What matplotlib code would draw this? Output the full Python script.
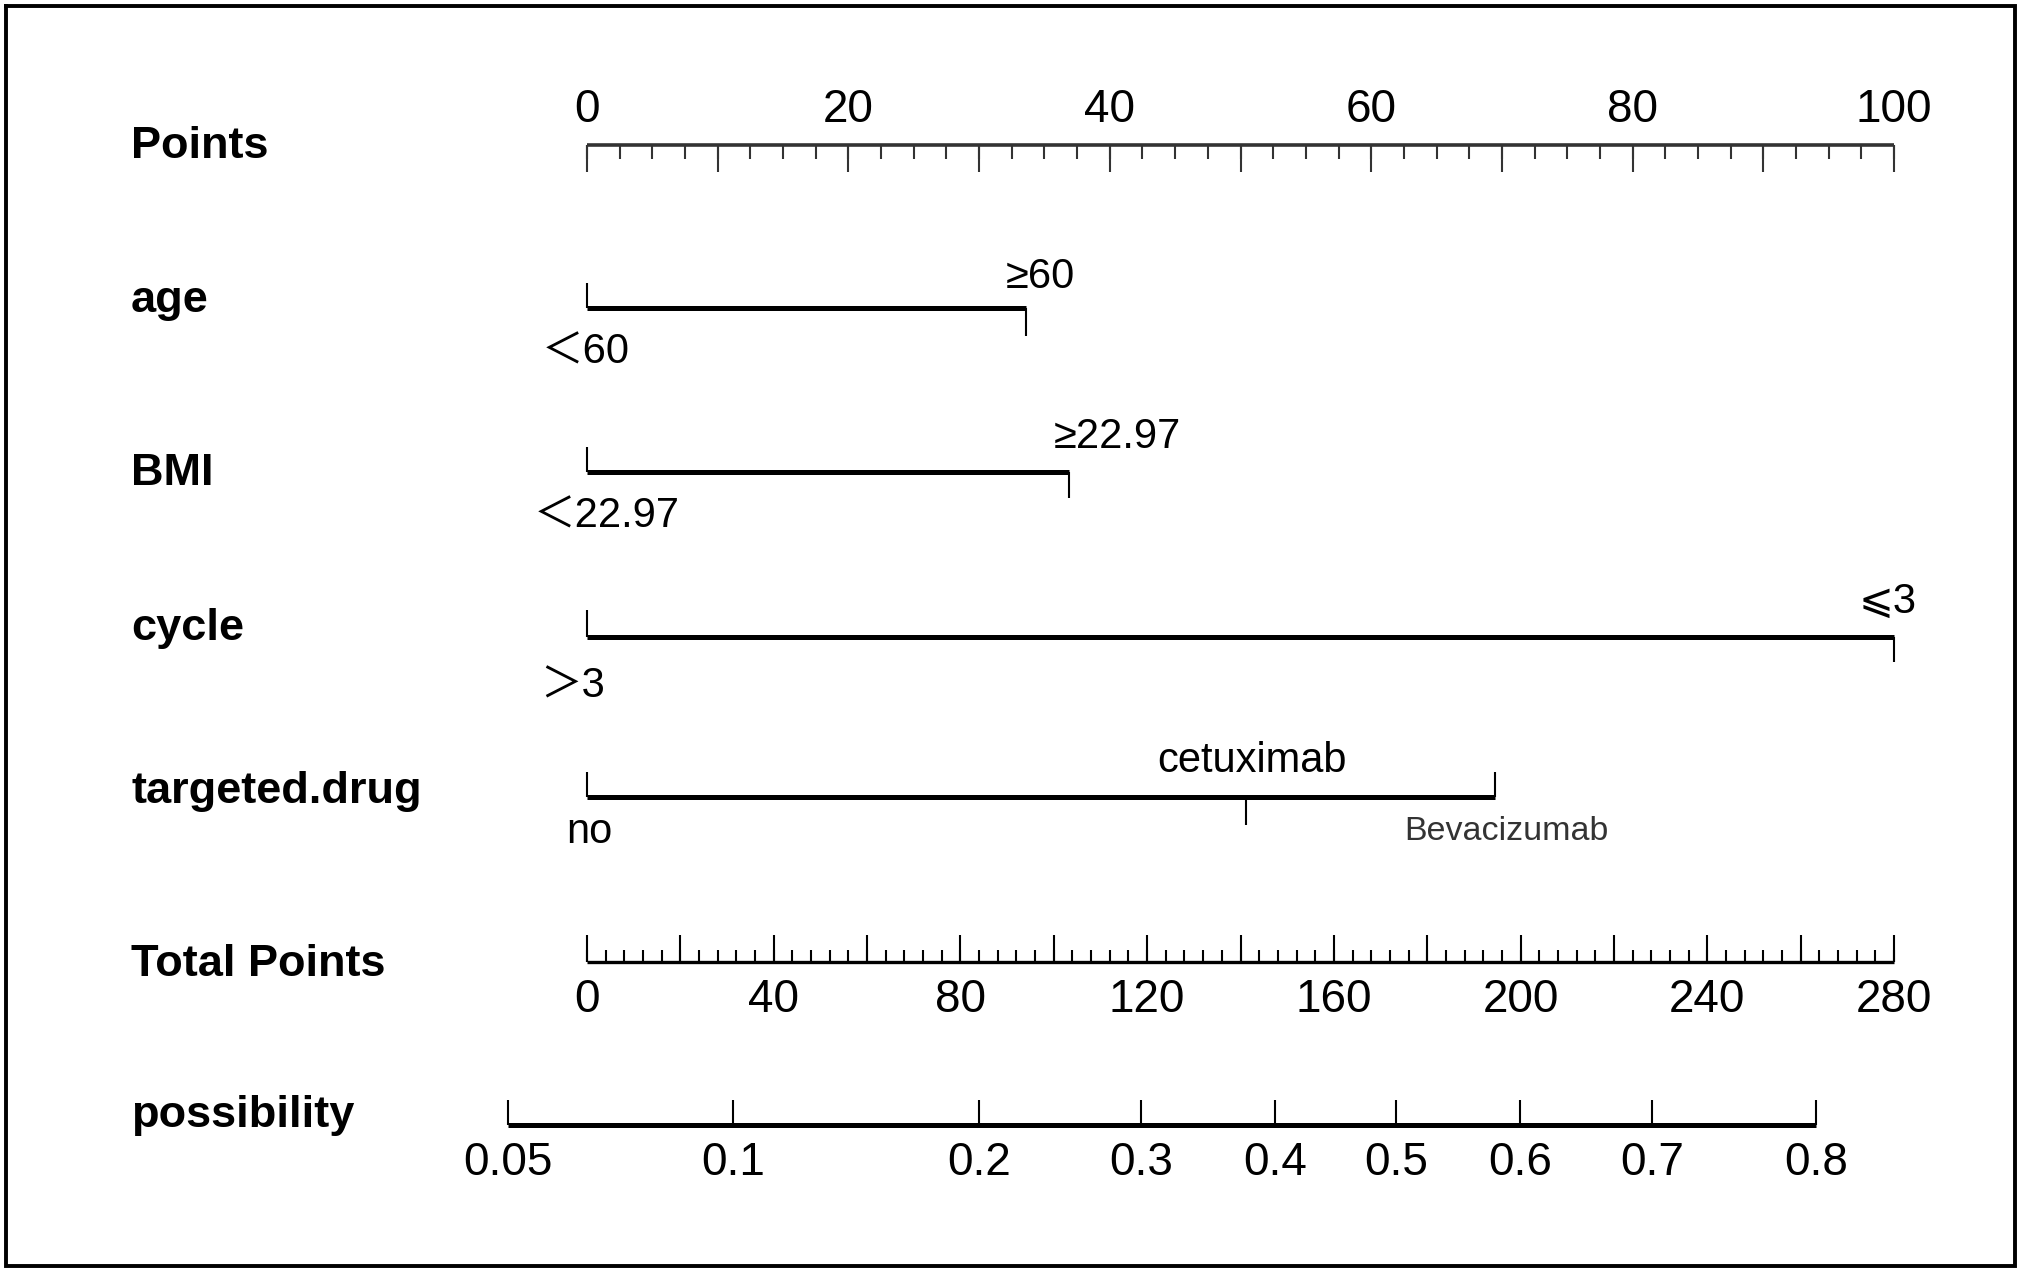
import numpy as np
import matplotlib.pyplot as plt

# nomogram scales
points_labels = [0, 20, 40, 60, 80, 100]
total_labels = [0, 40, 80, 120, 160, 200, 240, 280]
total_max = 280

# predictor levels and their points
age_levels = ["＜60", "≥60"]
age_points = [0, 33.6]
bmi_levels = ["＜22.97", "≥22.97"]
bmi_points = [0, 36.9]
cycle_levels = ["＞3", "⩽3"]
cycle_points = [0, 100]
drug_levels = ["no", "cetuximab", "Bevacizumab"]
drug_points = [0, 50.4, 69.5]

# possibility axis: labels and where they sit on the total points scale
prob_labels = ["0.05", "0.1", "0.2", "0.3", "0.4", "0.5", "0.6", "0.7", "0.8"]
prob_total = [-16.9, 31.3, 84.0, 118.7, 147.4, 173.3, 199.9, 228.2, 263.3]

row_names = ["Points", "age", "BMI", "cycle", "targeted.drug", "Total Points", "possibility"]

W, H = 2022, 1272
X0, S = 587, 13.07  # pixel of 0 points, pixels per point


def px(x):
    return (x - X0) / S


def dx(d):
    return d / S


def tp(v):
    return np.asarray(v, dtype=float) * 100 / total_max


plt.rcParams['font.family'] = ['Liberation Sans', 'Noto Sans CJK SC', 'DejaVu Sans']

fig = plt.figure(figsize=(W / 100, H / 100), dpi=100)
ax = fig.add_axes([0, 0, 1, 1])
ax.set_xlim(px(0), px(W))
ax.set_ylim(H, 0)
ax.axis("off")

LW_ROW = 3.6
LW_TICK = 1.5
LBL = 32.5
TICK = 33
VAL = 30

# row labels
label_y = [158, 312, 485, 640, 803, 976, 1127]
for name, y in zip(row_names, label_y):
    ax.text(px(131), y, name, fontsize=LBL, fontweight="bold", va="baseline", ha="left")

# Points axis
y = 145
ax.hlines(y, 0, 100, color="#333333", lw=2.6)
minor = np.arange(0, 100.01, 2.5)
major = np.arange(0, 100.01, 10)
ax.vlines(minor, y, y + 14, color="#333333", lw=LW_TICK)
ax.vlines(major, y, y + 27, color="#333333", lw=LW_TICK)
for v in points_labels:
    ax.text(v, 122, str(v), fontsize=TICK, ha="center", va="baseline")

# age
y = 308
ax.hlines(y, age_points[0], age_points[1], color="black", lw=LW_ROW)
ax.vlines(age_points[0], y - 25, y, color="black", lw=LW_TICK)
ax.vlines(age_points[1], y, y + 28, color="black", lw=LW_TICK)
ax.text(age_points[1] + dx(-20), 288, age_levels[1], fontsize=VAL, ha="left", va="baseline")
ax.text(age_points[0] + dx(-45), 363, age_levels[0], fontsize=VAL, ha="left", va="baseline")

# BMI
y = 472
ax.hlines(y, bmi_points[0], bmi_points[1], color="black", lw=LW_ROW)
ax.vlines(bmi_points[0], y - 25, y, color="black", lw=LW_TICK)
ax.vlines(bmi_points[1], y, y + 26, color="black", lw=LW_TICK)
ax.text(bmi_points[1] + dx(-16), 448, bmi_levels[1], fontsize=VAL, ha="left", va="baseline")
ax.text(bmi_points[0] + dx(-53), 527, bmi_levels[0], fontsize=VAL, ha="left", va="baseline")

# cycle
y = 637
ax.hlines(y, cycle_points[0], cycle_points[1], color="black", lw=LW_ROW)
ax.vlines(cycle_points[0], y - 27, y, color="black", lw=LW_TICK)
ax.vlines(cycle_points[1], y, y + 25, color="black", lw=LW_TICK)
ax.text(cycle_points[1] + dx(-6), 613, cycle_levels[1], fontsize=VAL, ha="center", va="baseline",
        family=['Liberation Sans', 'DejaVu Sans'])
ax.text(cycle_points[0] + dx(-47), 698, cycle_levels[0], fontsize=VAL, ha="left", va="baseline")

# targeted.drug
y = 797
ax.hlines(y, drug_points[0], drug_points[2], color="black", lw=LW_ROW)
ax.vlines(drug_points[0], y - 25, y, color="black", lw=LW_TICK)
ax.vlines(drug_points[1], y, y + 28, color="black", lw=LW_TICK)
ax.vlines(drug_points[2], y - 25, y, color="black", lw=LW_TICK)
ax.text(drug_points[0] + dx(2), 843, drug_levels[0], fontsize=VAL, ha="center", va="baseline")
ax.text(drug_points[1] + dx(6), 772, drug_levels[1], fontsize=30, ha="center", va="baseline")
ax.text(drug_points[2] + dx(11), 840, drug_levels[2], fontsize=24.5, ha="center", va="baseline",
        color="#333333")

# Total Points axis
y = 962
ax.hlines(y, 0, 100, color="black", lw=2.4)
t_minor = np.arange(0, total_max + 0.01, 4)
t_major = np.arange(0, total_max + 0.01, 20)
ax.vlines(tp(t_minor), y - 12, y, color="black", lw=LW_TICK)
ax.vlines(tp(t_major), y - 27, y, color="black", lw=LW_TICK)
for v in total_labels:
    ax.text(tp(v), 1012, str(v), fontsize=TICK, ha="center", va="baseline")

# possibility axis
y = 1125
px_prob = tp(prob_total)
ax.hlines(y, px_prob[0], px_prob[-1], color="black", lw=LW_ROW)
ax.vlines(px_prob, y - 25, y, color="black", lw=LW_TICK)
for x, lab in zip(px_prob, prob_labels):
    ax.text(x, 1175, lab, fontsize=TICK, ha="center", va="baseline")

# frame
ax.plot([px(6), px(2015), px(2015), px(6), px(6)], [6, 6, 1266, 1266, 6],
        color="black", lw=2.8, solid_joinstyle="miter")

fig.savefig("out.png", dpi=100)
